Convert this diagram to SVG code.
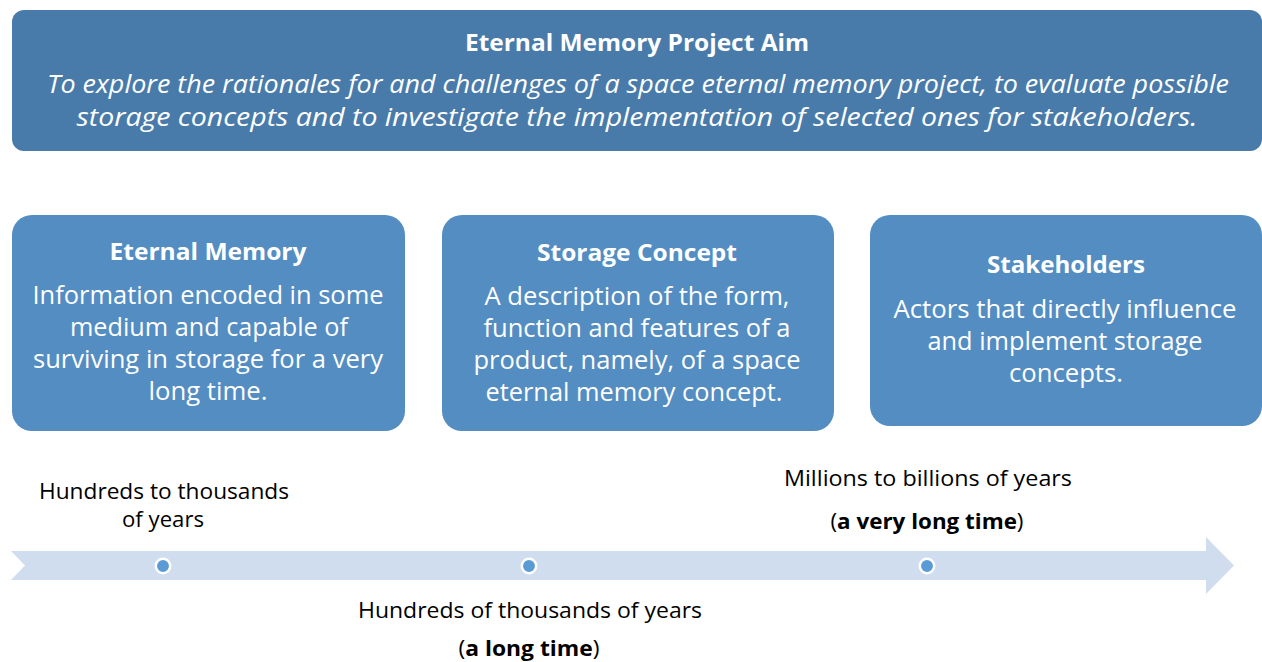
<svg xmlns="http://www.w3.org/2000/svg" width="1262" height="662" viewBox="0 0 1262 662">
<style>
.aim{fill:#487BAA}
.box{fill:#538DC2}
.t{font-family:"Open Sans","Liberation Sans",sans-serif;fill:#fff;text-anchor:middle}
.h{font-weight:bold;font-size:24px}
.b{font-size:25px}
.i{font-style:italic;font-size:25px}
.k{font-family:"Open Sans","Liberation Sans",sans-serif;fill:#000;text-anchor:middle;font-size:21px}
.dot{fill:#5B9BD5;stroke:#fff;stroke-width:2.5}
</style>
<rect width="1262" height="662" fill="#fff"/>
<g id="aim">
<rect class="aim" x="12" y="10" width="1250" height="141" rx="12"/>
<text class="t h" x="637" y="51" textLength="344" lengthAdjust="spacingAndGlyphs">Eternal Memory Project Aim</text>
<text class="t i" x="638" y="93" textLength="1182" lengthAdjust="spacingAndGlyphs">To explore the rationales for and challenges of a space eternal memory project, to evaluate possible</text>
<text class="t i" x="637" y="126" textLength="1121" lengthAdjust="spacingAndGlyphs">storage concepts and to investigate the implementation of selected ones for stakeholders.</text>
</g>
<g id="eternal-memory">
<rect class="box" x="12" y="215" width="393" height="216" rx="20"/>
<text class="t h" x="208" y="260" textLength="197" lengthAdjust="spacingAndGlyphs">Eternal Memory</text>
<text class="t b" x="208" y="304" textLength="351" lengthAdjust="spacingAndGlyphs">Information encoded in some</text>
<text class="t b" x="209" y="336" textLength="278" lengthAdjust="spacingAndGlyphs">medium and capable of</text>
<text class="t b" x="208" y="368" textLength="350" lengthAdjust="spacingAndGlyphs">surviving in storage for a very</text>
<text class="t b" x="208" y="400" textLength="119" lengthAdjust="spacingAndGlyphs">long time.</text>
</g>
<g id="storage-concept">
<rect class="box" x="442" y="215" width="392" height="216" rx="20"/>
<text class="t h" x="637" y="261" textLength="200" lengthAdjust="spacingAndGlyphs">Storage Concept</text>
<text class="t b" x="637" y="305" textLength="305" lengthAdjust="spacingAndGlyphs">A description of the form,</text>
<text class="t b" x="637" y="337" textLength="307" lengthAdjust="spacingAndGlyphs">function and features of a</text>
<text class="t b" x="637" y="369" textLength="327" lengthAdjust="spacingAndGlyphs">product, namely, of a space</text>
<text class="t b" x="634" y="401" textLength="297" lengthAdjust="spacingAndGlyphs">eternal memory concept.</text>
</g>
<g id="stakeholders">
<rect class="box" x="870" y="215" width="392" height="211" rx="20"/>
<text class="t h" x="1066" y="273" textLength="158" lengthAdjust="spacingAndGlyphs">Stakeholders</text>
<text class="t b" x="1065" y="318" textLength="343" lengthAdjust="spacingAndGlyphs">Actors that directly influence</text>
<text class="t b" x="1065" y="350" textLength="275" lengthAdjust="spacingAndGlyphs">and implement storage</text>
<text class="t b" x="1066" y="382" textLength="114" lengthAdjust="spacingAndGlyphs">concepts.</text>
</g>
<g id="connectors">
<polygon fill="#D0DDEF" points="11,551 1206,551 1206,537 1234,565.5 1206,594 1206,580 11,580 25,565.5"/>
<circle class="dot" cx="163" cy="566" r="7.2"/>
<circle class="dot" cx="529" cy="566" r="7.2"/>
<circle class="dot" cx="927" cy="566" r="7.2"/>
</g>
<g id="label-short">
<text class="k" x="164" y="499" textLength="250" lengthAdjust="spacingAndGlyphs">Hundreds to thousands</text>
<text class="k" x="163" y="527" textLength="82" lengthAdjust="spacingAndGlyphs">of years</text>
</g>
<g id="label-long">
<text class="k" x="530" y="618" textLength="344" lengthAdjust="spacingAndGlyphs">Hundreds of thousands of years</text>
<text class="k" x="529" y="656" textLength="141" lengthAdjust="spacingAndGlyphs">(<tspan font-weight="bold">a long time</tspan>)</text>
</g>
<g id="label-very-long">
<text class="k" x="928" y="486" textLength="288" lengthAdjust="spacingAndGlyphs">Millions to billions of years</text>
<text class="k" x="927" y="529" textLength="193" lengthAdjust="spacingAndGlyphs">(<tspan font-weight="bold">a very long time</tspan>)</text>
</g>
</svg>
